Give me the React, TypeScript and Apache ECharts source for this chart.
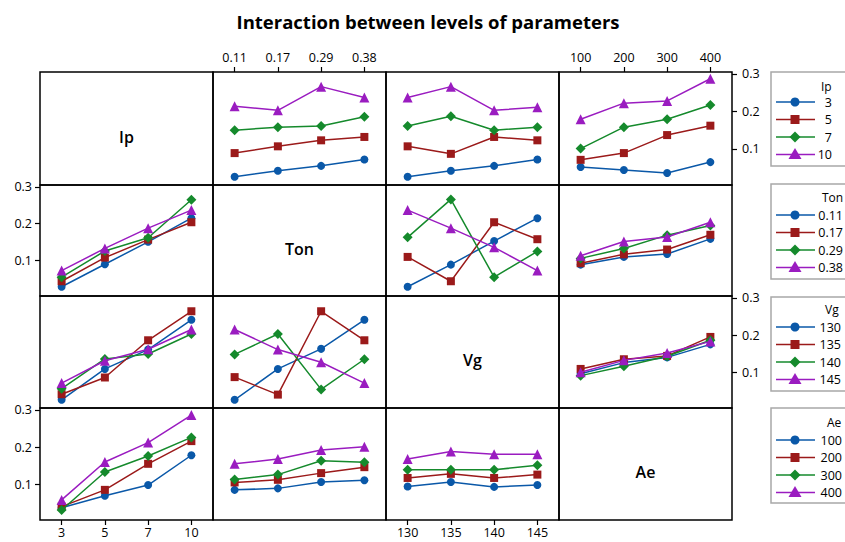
import React, { useEffect, useRef } from "react";
import * as echarts from "echarts";

// Factor levels (tick labels)
const ipLevels = ["3", "5", "7", "10"];
const tonLevels = ["0.11", "0.17", "0.29", "0.38"];
const vgLevels = ["130", "135", "140", "145"];
const aeLevels = ["100", "200", "300", "400"];
const factorNames = ["Ip", "Ton", "Vg", "Ae"];

// Mean response: lines = levels of row factor, x = levels of column factor
const ipByTon = [
  [0.026, 0.042, 0.055, 0.072],
  [0.089, 0.107, 0.123, 0.132],
  [0.150, 0.158, 0.161, 0.186],
  [0.214, 0.203, 0.266, 0.237],
];
const ipByVg = [
  [0.026, 0.042, 0.055, 0.072],
  [0.107, 0.087, 0.132, 0.123],
  [0.161, 0.187, 0.150, 0.158],
  [0.237, 0.266, 0.203, 0.211],
];
const ipByAe = [
  [0.052, 0.044, 0.036, 0.065],
  [0.071, 0.089, 0.137, 0.162],
  [0.101, 0.158, 0.179, 0.217],
  [0.179, 0.222, 0.228, 0.287],
];
const tonByIp = [
  [0.029, 0.090, 0.151, 0.215],
  [0.044, 0.108, 0.157, 0.204],
  [0.055, 0.126, 0.162, 0.265],
  [0.073, 0.133, 0.188, 0.237],
];
const tonByVg = [
  [0.029, 0.089, 0.153, 0.215],
  [0.110, 0.044, 0.204, 0.158],
  [0.163, 0.266, 0.055, 0.125],
  [0.237, 0.188, 0.136, 0.073],
];
const tonByAe = [
  [0.089, 0.110, 0.118, 0.159],
  [0.093, 0.117, 0.130, 0.170],
  [0.106, 0.133, 0.169, 0.195],
  [0.113, 0.152, 0.164, 0.204],
];
const vgByIp = [
  [0.026, 0.109, 0.161, 0.241],
  [0.041, 0.086, 0.186, 0.264],
  [0.056, 0.136, 0.149, 0.203],
  [0.071, 0.131, 0.162, 0.215],
];
const vgByTon = [
  [0.026, 0.109, 0.163, 0.241],
  [0.087, 0.040, 0.264, 0.186],
  [0.148, 0.203, 0.054, 0.135],
  [0.215, 0.161, 0.127, 0.071],
];
const vgByAe = [
  [0.096, 0.126, 0.140, 0.175],
  [0.109, 0.135, 0.144, 0.195],
  [0.091, 0.116, 0.143, 0.186],
  [0.100, 0.132, 0.152, 0.183],
];
const aeByIp = [
  [0.037, 0.069, 0.098, 0.178],
  [0.040, 0.085, 0.155, 0.216],
  [0.031, 0.133, 0.176, 0.226],
  [0.058, 0.160, 0.212, 0.286],
];
const aeByTon = [
  [0.085, 0.089, 0.106, 0.111],
  [0.105, 0.112, 0.130, 0.146],
  [0.113, 0.126, 0.163, 0.159],
  [0.155, 0.168, 0.192, 0.201],
];
const aeByVg = [
  [0.094, 0.106, 0.093, 0.098],
  [0.117, 0.128, 0.117, 0.126],
  [0.139, 0.139, 0.139, 0.151],
  [0.168, 0.188, 0.181, 0.181],
];

const yTicks = [0.1, 0.2, 0.3];

const levels = [ipLevels, tonLevels, vgLevels, aeLevels];
const panels: (number[][] | null)[][] = [
  [null, ipByTon, ipByVg, ipByAe],
  [tonByIp, null, tonByVg, tonByAe],
  [vgByIp, vgByTon, null, vgByAe],
  [aeByIp, aeByTon, aeByVg, null],
];

const colors = ["#0a58a8", "#9b1a1a", "#158a2c", "#9a1cc0"];
const symbols = ["circle", "rect", "diamond", "triangle"];
const symbolSizes = [8, 8, 10, 10];

const colX = [40, 213, 386, 559, 732];
const rowY = [72, 185, 296, 408, 520];
const FONT = "'Open Sans', 'Noto Sans', sans-serif";

export default function App() {
  const ref = useRef<HTMLDivElement>(null);
  useEffect(() => {
    if (!ref.current) return;
    const chart = echarts.init(ref.current, null, { renderer: "svg" });
    const grid: any[] = [];
    const xAxis: any[] = [];
    const yAxis: any[] = [];
    const series: any[] = [];
    const graphic: any[] = [];

    for (let r = 0; r < 4; r++) {
      for (let c = 0; c < 4; c++) {
        const idx = r * 4 + c;
        grid.push({
          left: colX[c],
          top: rowY[r],
          width: colX[c + 1] - colX[c],
          height: rowY[r + 1] - rowY[r],
          show: true,
          borderColor: "#000",
          borderWidth: 1.5,
          backgroundColor: "transparent",
        });
        const hasX =
          (r === 3 && (c === 0 || c === 2)) || (r === 0 && (c === 1 || c === 3));
        const hasY =
          (c === 3 && (r === 0 || r === 2)) || (c === 0 && (r === 1 || r === 3));
        xAxis.push({
          gridIndex: idx,
          type: "category",
          data: levels[c],
          boundaryGap: true,
          position: r === 0 ? "top" : "bottom",
          axisLine: { show: false },
          axisTick: {
            show: hasX,
            alignWithLabel: true,
            length: 5,
            lineStyle: { color: "#000", width: 1.2 },
          },
          axisLabel: {
            show: hasX,
            color: "#000",
            fontSize: 12.5,
            fontFamily: FONT,
            margin: r === 0 ? 8 : 6,
          },
          splitLine: { show: false },
        });
        yAxis.push({
          gridIndex: idx,
          type: "value",
          min: 0.004,
          max: 0.305,
          position: c === 3 ? "right" : "left",
          axisLine: { show: false },
          axisTick: {
            show: hasY,
            length: 5,
            customValues: yTicks,
            lineStyle: { color: "#000", width: 1.2 },
          },
          axisLabel: {
            show: hasY,
            customValues: yTicks,
            formatter: (v: number) => v.toFixed(1),
            color: "#000",
            fontSize: 12.5,
            fontFamily: FONT,
            margin: c === 3 ? 10 : 8,
          },
          splitLine: { show: false },
        });
        const d = panels[r][c];
        if (d) {
          d.forEach((vals, k) => {
            series.push({
              type: "line",
              name: `${factorNames[r]} ${levels[r][k]}`,
              xAxisIndex: idx,
              yAxisIndex: idx,
              data: vals,
              symbol: symbols[k],
              symbolSize: symbolSizes[k],
              showAllSymbol: true,
              color: colors[k],
              lineStyle: { color: colors[k], width: 1.5 },
              itemStyle: { color: colors[k] },
              z: 2 + k,
            });
          });
        } else {
          graphic.push({
            type: "text",
            x: (colX[c] + colX[c + 1]) / 2,
            y: (rowY[r] + rowY[r + 1]) / 2 + 8,
            style: {
              text: factorNames[r],
              fill: "#000",
              font: `600 16px ${FONT}`,
              textAlign: "center",
              textVerticalAlign: "middle",
            },
          });
        }
      }
    }

    // Title
    graphic.push({
      type: "text",
      x: 428,
      y: 21,
      style: {
        text: "Interaction between levels of parameters",
        fill: "#000",
        font: `bold 18.5px ${FONT}`,
        textAlign: "center",
        textVerticalAlign: "middle",
      },
    });

    // Legends
    const legendBoxes = [
      { top: 72, bottom: 166, titleY: 86, titleX: 821, firstY: 102, labelRight: 832 },
      { top: 184, bottom: 279, titleY: 197, titleX: 822, firstY: 215, labelRight: 843 },
      { top: 297, bottom: 391, titleY: 309, titleX: 825, firstY: 327, labelRight: 841 },
      { top: 408, bottom: 503, titleY: 422, titleX: 827, firstY: 440, labelRight: 842 },
    ];
    legendBoxes.forEach((lb, f) => {
      graphic.push({
        type: "rect",
        shape: { x: 771, y: lb.top, width: 90, height: lb.bottom - lb.top },
        style: { fill: "#fff", stroke: "#a8a8a8", lineWidth: 1.5 },
        z: 10,
      });
      graphic.push({
        type: "text",
        x: lb.titleX,
        y: lb.titleY,
        style: {
          text: factorNames[f],
          fill: "#000",
          font: `12px ${FONT}`,
          textAlign: "left",
          textVerticalAlign: "middle",
        },
        z: 11,
      });
      levels[f].forEach((lv, k) => {
        const y = lb.firstY + k * 17.5;
        graphic.push({
          type: "line",
          shape: { x1: 776, y1: y, x2: 815, y2: y },
          style: { stroke: colors[k], lineWidth: 1.5 },
          z: 11,
        });
        const cx = 795;
        let marker: any;
        if (k === 0) {
          marker = { type: "circle", shape: { cx, cy: y, r: 4.5 } };
        } else if (k === 1) {
          marker = { type: "rect", shape: { x: cx - 4.5, y: y - 4.5, width: 9, height: 9 } };
        } else if (k === 2) {
          marker = {
            type: "polygon",
            shape: { points: [[cx, y - 5.5], [cx + 5.5, y], [cx, y + 5.5], [cx - 5.5, y]] },
          };
        } else {
          marker = {
            type: "polygon",
            shape: { points: [[cx, y - 6.5], [cx + 6.5, y + 4.5], [cx - 6.5, y + 4.5]] },
          };
        }
        marker.style = { fill: colors[k] };
        marker.z = 12;
        graphic.push(marker);
        graphic.push({
          type: "text",
          x: lb.labelRight,
          y,
          style: {
            text: lv,
            fill: "#000",
            font: `12.5px ${FONT}`,
            textAlign: "right",
            textVerticalAlign: "middle",
          },
          z: 11,
        });
      });
    });

    chart.setOption({
      animation: false,
      backgroundColor: "#fff",
      grid,
      xAxis,
      yAxis,
      series,
      graphic,
    });
    return () => chart.dispose();
  }, []);
  return (
    <div
      ref={ref}
      style={{ position: "fixed", left: 0, top: 0, width: 845, height: 542 }}
    />
  );
}
